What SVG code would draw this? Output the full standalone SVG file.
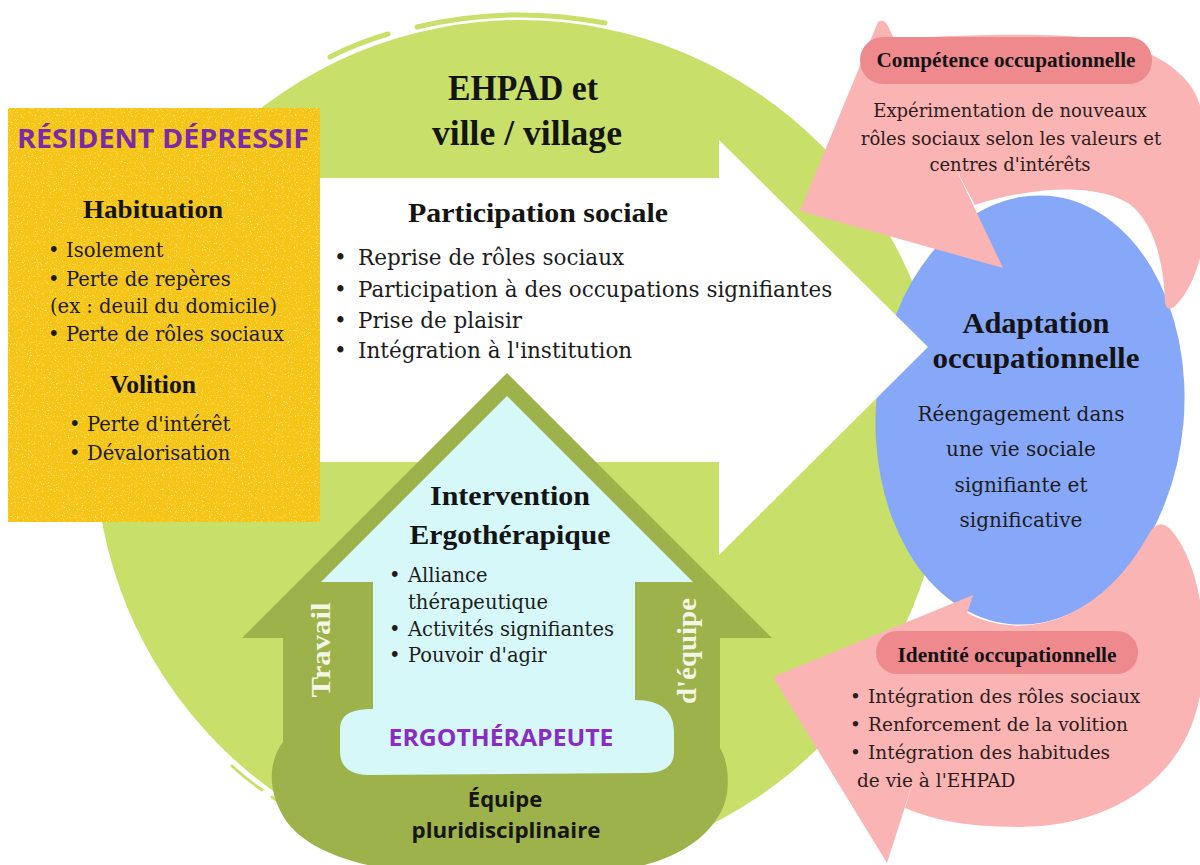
<svg xmlns="http://www.w3.org/2000/svg" width="1200" height="865" viewBox="0 0 1200 865">
  <defs>
    <style>
      .hd { font-family: 'Liberation Serif', 'Times New Roman', serif; font-weight: 700; fill: #141414; }
      .bd { font-family: 'DejaVu Serif', 'Liberation Serif', serif; fill: #1c1c1c; }
      .sn { font-family: 'Open Sans', 'Liberation Sans', sans-serif; font-weight: 700; }
      .pt { fill: #2c1d1d; }
      .c { text-anchor: middle; }
      .pink { fill: #fab4b4; }
      .pill { fill: #ee898d; }
      .green { fill: #c8e06a; }
      .dark { fill: #9db24b; }
      .streak { fill: none; stroke: #c8e06a; stroke-linecap: round; }
      .vert { font-family: 'Liberation Serif', 'Times New Roman', serif; font-weight: 700; fill: #f3f6e4; text-anchor: middle; }
    </style>
    <!-- light speckles over the yellow panel -->
    <filter id="grain" x="0" y="0" width="1" height="1" color-interpolation-filters="sRGB">
      <feTurbulence type="fractalNoise" baseFrequency="0.85" numOctaves="2" seed="7" result="noise"/>
      <feColorMatrix in="noise" type="matrix" values="0 0 0 0 1  0 0 0 0 0.93  0 0 0 0 0.55  4 0 0 0 -2.3" result="spots"/>
      <feComposite in="spots" in2="SourceGraphic" operator="in" result="clipped"/>
      <feMerge><feMergeNode in="SourceGraphic"/><feMergeNode in="clipped"/></feMerge>
    </filter>
  </defs>

  <rect width="1200" height="865" fill="#ffffff"/>

  <!-- environment: EHPAD and town -->
  <g id="environment">
    <circle class="green" cx="520" cy="445" r="425"/>
    <!-- loose brush strokes along the rim -->
    <path class="streak" stroke-width="5" d="M 330,57 Q 357,43 388,34"/>
    <path class="streak" stroke-width="5" d="M 417,27 Q 510,5 605,23"/>
    <path class="streak" stroke-width="3" d="M 232,766 Q 246,779 262,790"/>
    <path class="streak" stroke-width="3" d="M 272,797 Q 288,808 305,819"/>
    <path class="streak" stroke-width="3" d="M 330,832 Q 346,839 362,845"/>
    <text class="hd c" x="523" y="100" font-size="35" textLength="150" lengthAdjust="spacingAndGlyphs">EHPAD et</text>
    <text class="hd c" x="527" y="145" font-size="35" textLength="190" lengthAdjust="spacingAndGlyphs">ville / village</text>
  </g>

  <!-- outcome: occupational adaptation -->
  <g id="adaptation">
    <ellipse cx="1030" cy="410" rx="154" ry="215" fill="#87a8f8" transform="rotate(5 1030 410)"/>
    <text class="hd c" x="1036" y="333" font-size="29" textLength="147" lengthAdjust="spacingAndGlyphs">Adaptation</text>
    <text class="hd c" x="1036" y="368" font-size="29" textLength="207" lengthAdjust="spacingAndGlyphs">occupationnelle</text>
    <text class="bd c" x="1021" y="421" font-size="20">Réengagement dans</text>
    <text class="bd c" x="1021" y="456" font-size="20">une vie sociale</text>
    <text class="bd c" x="1021" y="492" font-size="20">signifiante et</text>
    <text class="bd c" x="1021" y="527" font-size="20">significative</text>
  </g>

  <!-- central arrow: social participation -->
  <g id="participation">
    <path fill="#ffffff" d="M 320,178 L 719,178 L 719,140 L 928,347 L 719,555 L 719,462 L 320,462 Z"/>
    <text class="hd c" x="538" y="222" font-size="28" textLength="260" lengthAdjust="spacingAndGlyphs">Participation sociale</text>
    <text class="bd" y="265" font-size="21.5"><tspan x="334">•</tspan><tspan x="358">Reprise de rôles sociaux</tspan></text>
    <text class="bd" y="297" font-size="21.5"><tspan x="334">•</tspan><tspan x="358">Participation à des occupations signifiantes</tspan></text>
    <text class="bd" y="328" font-size="21.5"><tspan x="334">•</tspan><tspan x="358">Prise de plaisir</tspan></text>
    <text class="bd" y="358" font-size="21.5"><tspan x="334">•</tspan><tspan x="358">Intégration à l'institution</tspan></text>
  </g>

  <!-- curved feedback arrows -->
  <g id="connectors">
    <g id="arrow-competence">
      <path class="pink" d="M 975,205 C 1020,190 1090,180 1128,203 C 1155,222 1164,265 1165,303 Q 1168,314 1177,304 C 1215,265 1222,130 1190,85 C 1160,45 1100,36 1040,35 C 980,34 925,37 887,40 Z"/>
      <path class="pink" d="M 878,22 Q 884,18 888,26 L 1003,268 L 800,211 Z"/>
    </g>
    <g id="arrow-identite">
      <!-- inner edge follows the rim of the adaptation ellipse -->
      <path class="pink" d="M 965,612 A 154 215 5 0 0 1150,532 Q 1160,517 1172,531 C 1205,570 1212,660 1196,712 C 1176,782 1110,826 1020,827 C 962,827 932,819 905,808 Z"/>
      <path class="pink" d="M 973,595 L 887,863 L 773,677 Z"/>
    </g>
  </g>

  <!-- top label: occupational competence -->
  <g id="competence">
    <rect class="pill" x="860" y="37" width="292" height="47" rx="23"/>
    <text class="hd c" x="1006" y="67" font-size="20" textLength="259" lengthAdjust="spacingAndGlyphs">Compétence occupationnelle</text>
    <text class="bd pt c" x="1010" y="117" font-size="18">Expérimentation de nouveaux</text>
    <text class="bd pt c" x="1011" y="145" font-size="18">rôles sociaux selon les valeurs et</text>
    <text class="bd pt c" x="1010" y="171" font-size="18">centres d'intérêts</text>
  </g>

  <!-- bottom label: occupational identity -->
  <g id="identite">
    <rect class="pill" x="876" y="631" width="262" height="43" rx="21"/>
    <text class="hd c" x="1007" y="662" font-size="20" textLength="219" lengthAdjust="spacingAndGlyphs">Identité occupationnelle</text>
    <text class="bd pt" y="703" font-size="18.5"><tspan x="850">•</tspan><tspan x="868">Intégration des rôles sociaux</tspan></text>
    <text class="bd pt" y="731" font-size="18.5"><tspan x="850">•</tspan><tspan x="868">Renforcement de la volition</tspan></text>
    <text class="bd pt" y="759" font-size="18.5"><tspan x="850">•</tspan><tspan x="868">Intégration des habitudes</tspan></text>
    <text class="bd pt" x="857" y="787" font-size="18.5">de vie à l'EHPAD</text>
  </g>

  <!-- the depressed resident -->
  <g id="resident">
    <rect x="8" y="108" width="312" height="414" fill="#f5c416" filter="url(#grain)"/>
    <text class="sn c" x="163" y="148" font-size="27" fill="#7b2ba8" textLength="292" lengthAdjust="spacingAndGlyphs">RÉSIDENT DÉPRESSIF</text>
    <text class="hd c" x="153" y="218" font-size="26" textLength="140" lengthAdjust="spacingAndGlyphs">Habituation</text>
    <text class="bd" y="257" font-size="19.5"><tspan x="48">•</tspan><tspan x="66">Isolement</tspan></text>
    <text class="bd" y="286" font-size="19.5"><tspan x="48">•</tspan><tspan x="66">Perte de repères</tspan></text>
    <text class="bd" x="50" y="313" font-size="19.5">(ex : deuil du domicile)</text>
    <text class="bd" y="341" font-size="19.5"><tspan x="48">•</tspan><tspan x="66">Perte de rôles sociaux</tspan></text>
    <text class="hd c" x="153" y="393" font-size="26" textLength="86" lengthAdjust="spacingAndGlyphs">Volition</text>
    <text class="bd" y="431" font-size="19.5"><tspan x="69">•</tspan><tspan x="87">Perte d'intérêt</tspan></text>
    <text class="bd" y="460" font-size="19.5"><tspan x="69">•</tspan><tspan x="87">Dévalorisation</tspan></text>
  </g>

  <!-- occupational therapy intervention (house) -->
  <g id="intervention">
    <path class="dark" d="M 507,373 L 772,638 L 720,638 L 720,748 C 729,762 731,792 722,810 C 704,846 660,868 600,872 L 420,872 C 350,868 300,846 283,816 C 268,790 268,762 283,742 L 283,638 L 242,638 Z"/>
    <path fill="#d6f8f9" d="M 507,396 L 693,582 L 635,582 L 635,700 C 662,700 674,712 674,732 L 674,752 C 674,766 664,773 645,773 L 368,775 C 350,775 340,766 340,752 L 340,730 C 340,714 352,709 373,709 L 373,582 L 321,582 Z"/>
    <text class="hd c" x="510" y="505" font-size="28" textLength="160" lengthAdjust="spacingAndGlyphs">Intervention</text>
    <text class="hd c" x="510" y="544" font-size="28" textLength="201" lengthAdjust="spacingAndGlyphs">Ergothérapique</text>
    <text class="bd" y="582" font-size="19.5"><tspan x="389">•</tspan><tspan x="408">Alliance</tspan></text>
    <text class="bd" x="408" y="609" font-size="19.5">thérapeutique</text>
    <text class="bd" y="636" font-size="19.5"><tspan x="389">•</tspan><tspan x="408">Activités signifiantes</tspan></text>
    <text class="bd" y="662" font-size="19.5"><tspan x="389">•</tspan><tspan x="408">Pouvoir d'agir</tspan></text>
    <text class="vert" transform="translate(330 650) rotate(-90)" font-size="28" textLength="95" lengthAdjust="spacingAndGlyphs">Travail</text>
    <text class="vert" transform="translate(696 651) rotate(-90)" font-size="28" textLength="106" lengthAdjust="spacingAndGlyphs">d'équipe</text>
    <text class="sn c" x="501" y="746" font-size="23" fill="#8a2cc4" textLength="225" lengthAdjust="spacingAndGlyphs">ERGOTHÉRAPEUTE</text>
    <text class="sn c" x="505" y="807" font-size="22" fill="#161616">Équipe</text>
    <text class="sn c" x="506" y="838" font-size="22" fill="#161616" textLength="189" lengthAdjust="spacingAndGlyphs">pluridisciplinaire</text>
  </g>
</svg>
